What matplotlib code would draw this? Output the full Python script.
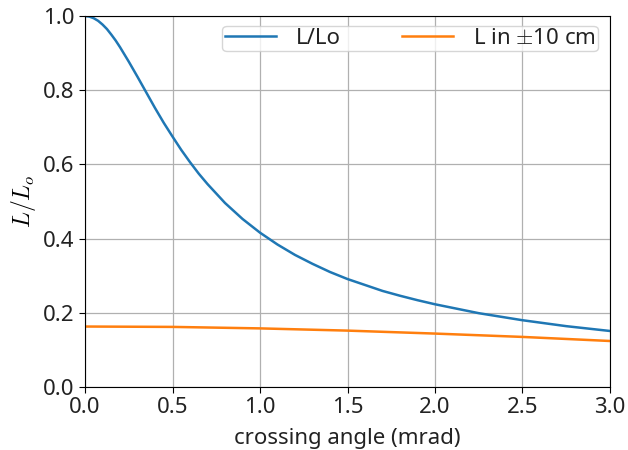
import matplotlib
matplotlib.use("Agg")
import matplotlib.pyplot as plt

# crossing angle (mrad)
angle_blue = [0.0, 0.025, 0.05, 0.075, 0.1, 0.125, 0.15, 0.175, 0.2, 0.25, 0.3, 0.35, 0.4, 0.45,
              0.5, 0.55, 0.6, 0.65, 0.7, 0.8, 0.9, 1.0, 1.1, 1.2, 1.3, 1.4, 1.5, 1.6, 1.7,
              1.8, 1.9, 2.0, 2.25, 2.5, 2.75, 3.0]
lumi_ratio = [1.0, 0.9985, 0.994, 0.987, 0.977, 0.965, 0.950, 0.934, 0.916, 0.877, 0.836,
              0.794, 0.752, 0.712, 0.675, 0.639, 0.606, 0.575, 0.547, 0.496, 0.453, 0.416,
              0.384, 0.356, 0.332, 0.310, 0.291, 0.275, 0.259, 0.246, 0.234, 0.223, 0.199,
              0.180, 0.164, 0.151]

angle_orange = [0.0, 0.5, 1.0, 1.5, 2.0, 2.5, 3.0]
lumi_10cm = [0.163, 0.162, 0.158, 0.152, 0.144, 0.135, 0.124]

plt.rcParams['font.family'] = ['Noto Sans', 'DejaVu Sans']
plt.rcParams['mathtext.fontset'] = 'cm'

fig = plt.figure(figsize=(6.28, 4.5), dpi=100)
ax = fig.add_axes([0.1354, 0.14, 0.8359, 0.8244])

ax.plot(angle_blue, lumi_ratio, color='#1f77b4', lw=1.8, label='L/Lo')
ax.plot(angle_orange, lumi_10cm, color='#ff7f0e', lw=1.8, label=r'L in $\pm$10 cm')

ax.set_xlim(0, 3.0)
ax.set_ylim(0, 1.0)
ax.set_xticks([0.0, 0.5, 1.0, 1.5, 2.0, 2.5, 3.0])
ax.set_yticks([0.0, 0.2, 0.4, 0.6, 0.8, 1.0])
ax.tick_params(labelsize=16, length=4, labelcolor='#222222')
ax.grid(True, color='#b0b0b0', lw=0.9)
ax.set_axisbelow(True)

ax.set_xlabel('crossing angle (mrad)', fontsize=16, labelpad=7, color='#222222')
ax.set_ylabel(r'$L/L_o$', fontsize=17)

ax.legend(loc='upper right', ncol=2, fontsize=16, frameon=True, handlelength=2.3,
          handletextpad=0.9, columnspacing=2.75, borderpad=0.1, borderaxespad=0,
          bbox_to_anchor=(0.977, 0.973), labelcolor='#222222')

fig.savefig('out.png', dpi=100)
